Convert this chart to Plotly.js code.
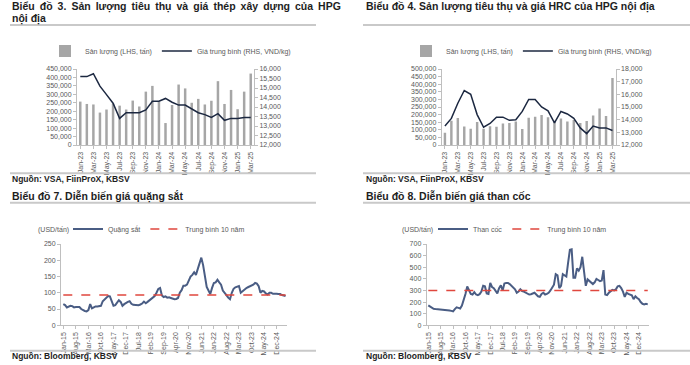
<!DOCTYPE html>
<html><head><meta charset="utf-8">
<script src="https://cdn.plot.ly/plotly-3.0.1.min.js"></script>
<style>html,body{margin:0;padding:0;background:#fff}#chart{width:690px;height:365px}</style>
</head><body><div id="chart"></div>
<script>
// ---------- Data ----------
const months23 = ['Jan-23','Feb-23','Mar-23','Apr-23','May-23','Jun-23','Jul-23','Aug-23','Sep-23','Oct-23','Nov-23','Dec-23',
  'Jan-24','Feb-24','Mar-24','Apr-24','May-24','Jun-24','Jul-24','Aug-24','Sep-24','Oct-24','Nov-24','Dec-24',
  'Jan-25','Feb-25','Mar-25'];
const tickLabels23 = ['Jan-23','Mar-23','May-23','Jul-23','Sep-23','Nov-23','Jan-24','Mar-24','May-24','Jul-24','Sep-24','Nov-24','Jan-25','Mar-25'];

const steelVolume = [257000,243000,240000,192000,210000,245000,233000,210000,263000,228000,316000,350000,
  257000,130000,237000,358000,335000,250000,273000,240000,262000,378000,243000,326000,212000,316000,423000];
const steelPrice = [15600,15600,15750,15100,14650,14200,13400,13700,13700,13700,13850,14300,
  14300,14450,14250,14100,14100,13900,13700,13600,13450,13650,13300,13400,13400,13450,13450];

const hrcVolume = [80000,160000,178000,122000,107000,151000,107000,124000,120000,142000,144000,155000,
  105000,179000,186000,197000,183000,160000,175000,155000,165000,145000,158000,194000,240000,190000,440000];
const hrcPrice = [13500,14100,15300,16300,16000,14400,13400,13700,14200,14200,13950,14000,
  14650,15600,15600,15000,14700,13750,14650,14450,14100,13350,12900,13500,13350,13350,13150];

// Monthly, Jan-15 ... May-25
const ironOre = [65,62,55,57,60,59,55,56,57,56,50,46,
  44,43,47,65,52,55,58,58,59,60,74,79,
  82,90,89,75,60,62,68,77,72,60,65,70,
  72,74,66,63,62,62,62,64,67,73,68,72,
  76,82,84,90,100,112,115,92,87,89,85,86,
  84,82,80,81,84,100,108,122,122,125,138,150,
  155,163,155,172,195,208,185,150,118,107,96,115,
  130,132,140,132,125,107,98,93,85,80,100,112,
  117,118,121,100,105,112,114,117,119,122,125,130,
  128,120,100,106,104,98,95,100,100,97,98,97,
  96,96,93,91,90];
const cokingCoal = [172,162,150,142,140,139,138,137,136,135,134,132,
  128,124,120,140,155,150,145,170,215,270,335,300,
  270,265,285,265,260,268,290,340,335,275,270,365,
  330,320,300,275,320,345,300,360,365,365,355,340,
  320,310,280,290,310,295,290,280,270,265,268,275,
  280,265,250,245,270,280,265,270,280,300,330,350,
  440,430,320,340,440,430,420,540,650,655,410,410,
  490,470,500,590,450,340,395,380,370,355,370,400,
  390,380,385,475,265,260,280,290,305,300,310,335,
  340,320,290,245,280,270,265,258,225,250,235,225,
  200,185,180,185,180];
const ironOreAvg10y = 93;
const cokingCoalAvg10y = 300;
const monthTickLabels = ['Jan-15','Aug-15','Mar-16','Oct-16','May-17','Dec-17','Jul-18','Feb-19','Sep-19',
  'Apr-20','Nov-20','Jun-21','Jan-22','Aug-22','Mar-23','Oct-23','May-24','Dec-24'];

const monNames = ['Jan','Feb','Mar','Apr','May','Jun','Jul','Aug','Sep','Oct','Nov','Dec'];
const months15 = ironOre.map((_, i) => monNames[i % 12] + '-' + String(15 + Math.floor(i / 12)));

// ---------- Styling ----------
const W = 690, H = 365;
const px = v => v / W, py = v => 1 - v / H;
const FONT = 'Liberation Sans, Arial, sans-serif';
const tickFont = {family: FONT, size: 7, color: '#595959'};
const axisCommon = {showgrid: false, zeroline: false, showline: true, linecolor: '#bfbfbf', linewidth: 1,
  ticks: 'outside', ticklen: 3, tickcolor: '#bfbfbf', tickfont: tickFont, fixedrange: true};
const barColor = '#a6a6a6', darkLine = '#1c2841', blueLine = '#4a5d84', redDash = '#e0473e';

const traces = [
  {type: 'bar', x: months23, y: steelVolume, name: 'Sản lượng (LHS, tấn)', marker: {color: barColor},
   xaxis: 'x', yaxis: 'y', legend: 'legend'},
  {type: 'scatter', mode: 'lines', x: months23, y: steelPrice, name: 'Giá trung bình (RHS, VND/kg)',
   line: {color: darkLine, width: 1.5}, xaxis: 'x', yaxis: 'y2', legend: 'legend'},
  {type: 'bar', x: months23, y: hrcVolume, name: 'Sản lượng (LHS, tấn)', marker: {color: barColor},
   xaxis: 'x2', yaxis: 'y3', legend: 'legend2'},
  {type: 'scatter', mode: 'lines', x: months23, y: hrcPrice, name: 'Giá trung bình (RHS, VND/kg)',
   line: {color: darkLine, width: 1.5}, xaxis: 'x2', yaxis: 'y4', legend: 'legend2'},
  {type: 'scatter', mode: 'lines', x: months15, y: ironOre, name: 'Quặng sắt',
   line: {color: blueLine, width: 2}, xaxis: 'x3', yaxis: 'y5', legend: 'legend3'},
  {type: 'scatter', mode: 'lines', x: months15, y: months15.map(() => ironOreAvg10y), name: 'Trung bình 10 năm',
   line: {color: redDash, width: 1.5, dash: 'dash'}, xaxis: 'x3', yaxis: 'y5', legend: 'legend3'},
  {type: 'scatter', mode: 'lines', x: months15, y: cokingCoal, name: 'Than cốc',
   line: {color: blueLine, width: 2}, xaxis: 'x4', yaxis: 'y6', legend: 'legend4'},
  {type: 'scatter', mode: 'lines', x: months15, y: months15.map(() => cokingCoalAvg10y), name: 'Trung bình 10 năm',
   line: {color: redDash, width: 1.5, dash: 'dash'}, xaxis: 'x4', yaxis: 'y6', legend: 'legend4'}
];

const topDom = [py(145), py(69)];
const botDom = [py(325.3), py(244)];

const legendCommon = {orientation: 'h', xanchor: 'left', yanchor: 'middle', font: {family: FONT, size: 7, color: '#595959'},
  bgcolor: 'rgba(0,0,0,0)', itemwidth: 30, tracegroupgap: 0};

const TS = '\u2009';
const title3 = ['Biểu', 'đồ', '3.', 'Sản', 'lượng', 'tiêu', 'thụ', 'và', 'giá', 'thép', 'xây', 'dựng', 'của', 'HPG'].join(' ' + TS);

const layout = {
  width: W, height: H, margin: {l: 0, r: 0, t: 0, b: 0},
  paper_bgcolor: '#fff', plot_bgcolor: '#fff', bargap: 0.62,
  font: {family: FONT},
  showlegend: true,
  xaxis: Object.assign({}, axisCommon, {domain: [px(77), px(254)], anchor: 'y', type: 'category',
    tickvals: tickLabels23, ticktext: tickLabels23, tickangle: -90}),
  yaxis: Object.assign({}, axisCommon, {domain: topDom, anchor: 'x', range: [0, 450000], dtick: 50000, tickformat: ',d'}),
  yaxis2: Object.assign({}, axisCommon, {overlaying: 'y', anchor: 'x', side: 'right', range: [12000, 16000], dtick: 500, tickformat: ',d'}),
  xaxis2: Object.assign({}, axisCommon, {domain: [px(441.7), px(615.7)], anchor: 'y3', type: 'category',
    tickvals: tickLabels23, ticktext: tickLabels23, tickangle: -90}),
  yaxis3: Object.assign({}, axisCommon, {domain: topDom, anchor: 'x2', range: [0, 500000], dtick: 50000, tickformat: ',d'}),
  yaxis4: Object.assign({}, axisCommon, {overlaying: 'y3', anchor: 'x2', side: 'right', range: [12000, 18000], dtick: 1000, tickformat: ',d'}),
  xaxis3: Object.assign({}, axisCommon, {domain: [px(61), px(287)], anchor: 'y5', type: 'category',
    range: [-1.28, 124.8], tickvals: monthTickLabels, ticktext: monthTickLabels, tickangle: -90}),
  yaxis5: Object.assign({}, axisCommon, {domain: botDom, anchor: 'x3', range: [0, 250], dtick: 50}),
  xaxis4: Object.assign({}, axisCommon, {domain: [px(426.7), px(649)], anchor: 'y6', type: 'category',
    range: [-0.9, 124.7], tickvals: monthTickLabels, ticktext: monthTickLabels, tickangle: -90}),
  yaxis6: Object.assign({}, axisCommon, {domain: botDom, anchor: 'x4', range: [0, 700], dtick: 100}),
  legend: Object.assign({}, legendCommon, {x: px(45), y: py(51)}),
  legend2: Object.assign({}, legendCommon, {x: px(406), y: py(51)}),
  legend3: Object.assign({}, legendCommon, {x: px(68), y: py(229)}),
  legend4: Object.assign({}, legendCommon, {x: px(433), y: py(229)}),
  shapes: [
    [10, 316, 25], [363, 690, 25], [10, 316, 173.3], [363, 690, 173.3],
    [10, 316, 202.7], [363, 690, 202.7], [10, 316, 350.7], [363, 690, 350.7]
  ].map(([x0, x1, y]) => ({type: 'line', xref: 'paper', yref: 'paper', x0: px(x0), x1: px(x1), y0: py(y), y1: py(y),
    line: {color: '#c9c9c9', width: 2}})),
  annotations: [
    {text: '<b>' + title3 + '</b>', x: px(10), y: py(6)},
    {text: '<b>nội địa</b>', x: px(10), y: py(18)},
    {text: '<b>Biểu đồ 4. Sản lượng tiêu thụ và giá HRC của HPG nội địa</b>', x: px(364), y: py(6)},
    {text: '<b>Biểu đồ 7. Diễn biến giá quặng sắt</b>', x: px(10), y: py(196)},
    {text: '<b>Biểu đồ 8. Diễn biến giá than cốc</b>', x: px(364), y: py(196)},
    {text: '<b>Nguồn: VSA, FiinProX, KBSV</b>', x: px(10), y: py(178.5), size: 8.5},
    {text: '<b>Nguồn: VSA, FiinProX, KBSV</b>', x: px(364), y: py(178.5), size: 8.5},
    {text: '<b>Nguồn: Bloomberg, KBSV</b>', x: px(10), y: py(356), size: 8.5},
    {text: '<b>Nguồn: Bloomberg, KBSV</b>', x: px(364), y: py(356), size: 8.5},
    {text: '(USD/tấn)', x: px(36), y: py(229.5), size: 7, color: '#595959'},
    {text: '(USD/tấn)', x: px(400), y: py(229.5), size: 7, color: '#595959'}
  ].map(a => ({text: a.text, xref: 'paper', yref: 'paper', x: a.x, y: a.y, xanchor: 'left', yanchor: 'middle',
    showarrow: false, font: {family: FONT, size: a.size || 10.5, color: a.color || '#1e1e1e'}}))
};

Plotly.newPlot('chart', traces, layout, {staticPlot: true, displayModeBar: false});
</script>
</body></html>
